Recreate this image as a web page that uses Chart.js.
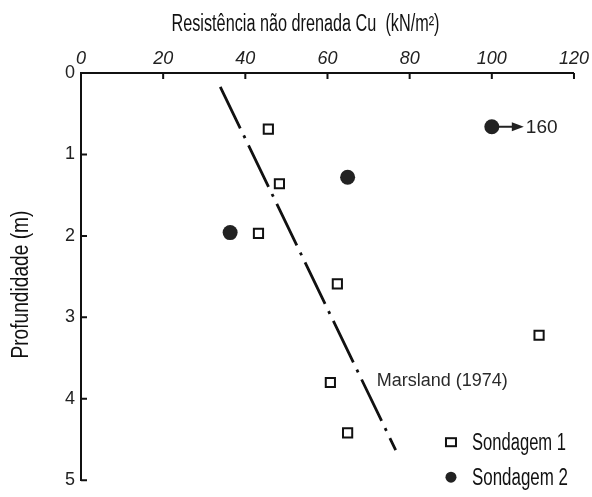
<!DOCTYPE html>
<html>
<head>
<meta charset="utf-8">
<script src="https://cdn.jsdelivr.net/npm/chart.js@4.4.1/dist/chart.umd.min.js"></script>
<style>
  html, body { margin: 0; padding: 0; background: #fff; }
  #chart { display: block; }
</style>
</head>
<body>
<canvas id="chart" width="592" height="497"></canvas>
<script>
// Sondagem 1 (quadrados abertos)
const sond1Cu = [45.6, 48.3, 43.2, 62.4, 111.5, 60.7, 64.9];
const sond1Depth = [0.69, 1.36, 1.97, 2.59, 3.22, 3.80, 4.42];
// Sondagem 2 (circulos cheios) - o ultimo vale 160, desenhado no limite 100 com seta
const sond2Cu = [36.3, 64.9, 100];
const sond2Depth = [1.96, 1.28, 0.66];
const offScaleIndex = 2;
const offScaleLabel = '160';
// reta de Marsland (1974)
const marslandCu = [33.9, 76.6];
const marslandDepth = [0.17, 4.63];
const marslandLabel = 'Marsland (1974)';
const marslandLabelAt = [72, 3.78];
// eixos
const xTicks = [0, 20, 40, 60, 80, 100, 120];
const yTicks = [0, 1, 2, 3, 4, 5];
const xTitle = 'Resistência não drenada Cu  (kN/m²)';
const yTitle = 'Profundidade (m)';

const ink = '#111';

// escolhe a primeira fonte instalada da lista
function pickFont(list) {
    const c = document.createElement('canvas').getContext('2d');
    const probe = 'Resistência 0123456789 Wg';
    c.font = '20px monospace';
    const base = c.measureText(probe).width;
    for (const f of list) {
        c.font = "20px '" + f + "', monospace";
        if (Math.abs(c.measureText(probe).width - base) > 0.5) return "'" + f + "'";
    }
    return 'sans-serif';
}
const sans = pickFont(['Liberation Sans', 'Arimo', 'Roboto', 'Noto Sans', 'Open Sans', 'DejaVu Sans']);

// texto estreito (condensado) com largura alvo
function narrowText(ctx, text, x, y, size, width, rotate) {
    ctx.save();
    ctx.font = size + 'px ' + sans;
    const w = ctx.measureText(text).width;
    ctx.translate(x, y);
    if (rotate) ctx.rotate(-Math.PI / 2);
    ctx.scale(width / w, 1);
    ctx.fillText(text, 0, 0);
    ctx.restore();
}

const toPoints = (xs, ys) => xs.map((v, i) => ({ x: v, y: ys[i] }));

const extras = {
    id: 'extras',
    afterDatasetsDraw(chart) {
        const { ctx, chartArea, scales: { x, y } } = chart;
        ctx.save();

        // marcas de escala para dentro
        ctx.strokeStyle = ink;
        ctx.lineWidth = 2;
        ctx.beginPath();
        xTicks.forEach(v => {
            const px = x.getPixelForValue(v);
            ctx.moveTo(px, chartArea.top);
            ctx.lineTo(px, chartArea.top + 6);
        });
        yTicks.forEach(v => {
            const py = y.getPixelForValue(v);
            ctx.moveTo(chartArea.left, py);
            ctx.lineTo(chartArea.left + 6, py);
        });
        ctx.stroke();

        // titulos dos eixos (fonte estreita)
        ctx.fillStyle = ink;
        ctx.textBaseline = 'middle';
        ctx.textAlign = 'center';
        const midX = (chartArea.left + chartArea.right) / 2;
        const midY = (chartArea.top + chartArea.bottom) / 2;
        narrowText(ctx, xTitle, midX - 22, chartArea.top - 48, 23, 268, false);
        narrowText(ctx, yTitle, 22, midY + 8, 23, 148, true);

        // seta para o valor fora da escala
        const p = chart.getDatasetMeta(2).data[offScaleIndex];
        ctx.strokeStyle = '#222';
        ctx.fillStyle = '#222';
        ctx.lineWidth = 2;
        ctx.beginPath();
        ctx.moveTo(p.x + 6, p.y);
        ctx.lineTo(p.x + 22, p.y);
        ctx.stroke();
        ctx.beginPath();
        ctx.moveTo(p.x + 32, p.y);
        ctx.lineTo(p.x + 20, p.y - 4.5);
        ctx.lineTo(p.x + 20, p.y + 4.5);
        ctx.closePath();
        ctx.fill();
        ctx.font = '19px ' + sans;
        ctx.textAlign = 'left';
        ctx.fillText(offScaleLabel, p.x + 34, p.y + 1);

        // texto da reta
        ctx.fillStyle = '#2a2a2a';
        ctx.font = '18px ' + sans;
        ctx.fillText(marslandLabel, x.getPixelForValue(marslandLabelAt[0]), y.getPixelForValue(marslandLabelAt[1]));

        // legenda
        const lx = chartArea.right - 123;
        const tx = chartArea.right - 102;
        const rows = [chartArea.bottom - 38, chartArea.bottom - 3];
        ctx.lineWidth = 2;
        ctx.strokeStyle = ink;
        ctx.strokeRect(lx - 5, rows[0] - 4, 10, 8);
        ctx.fillStyle = '#222';
        ctx.beginPath();
        ctx.arc(lx, rows[1], 5.5, 0, Math.PI * 2);
        ctx.fill();
        ctx.fillStyle = ink;
        narrowText(ctx, chart.data.datasets[1].label, tx, rows[0] + 1, 23, 94, false);
        narrowText(ctx, chart.data.datasets[2].label, tx, rows[1] + 1, 23, 96, false);

        ctx.restore();
    }
};

new Chart(document.getElementById('chart'), {
    type: 'scatter',
    data: {
        datasets: [{
            label: marslandLabel,
            data: toPoints(marslandCu, marslandDepth),
            showLine: true,
            borderColor: ink,
            borderWidth: 2.8,
            borderDash: [46, 8, 3, 8],
            pointRadius: 0,
            fill: false
        }, {
            label: 'Sondagem 1',
            data: toPoints(sond1Cu, sond1Depth),
            pointStyle: 'rect',
            pointRadius: 6.5,
            pointBorderWidth: 2,
            pointBorderColor: ink,
            pointBackgroundColor: '#fff'
        }, {
            label: 'Sondagem 2',
            data: toPoints(sond2Cu, sond2Depth),
            pointStyle: 'circle',
            pointRadius: 7.5,
            pointBorderWidth: 0,
            pointBackgroundColor: '#222'
        }]
    },
    options: {
        responsive: false,
        animation: false,
        layout: {
            padding: { left: 37, right: 17, top: 37, bottom: 9 }
        },
        plugins: {
            legend: { display: false },
            tooltip: { enabled: false }
        },
        scales: {
            x: {
                type: 'linear',
                position: 'top',
                min: 0,
                max: 120,
                grid: { display: false, drawTicks: false },
                border: { display: true, color: ink, width: 2 },
                ticks: {
                    color: '#222',
                    padding: 3,
                    font: { family: sans, size: 18, style: 'italic' }
                },
                afterBuildTicks: s => { s.ticks = xTicks.map(v => ({ value: v })); },
                afterFit: s => { s.height = 36; }
            },
            y: {
                type: 'linear',
                reverse: true,
                min: 0,
                max: 5,
                grid: { display: false, drawTicks: false },
                border: { display: true, color: ink, width: 2 },
                ticks: {
                    color: '#222',
                    padding: 6,
                    font: { family: sans, size: 18 }
                },
                afterBuildTicks: s => { s.ticks = yTicks.map(v => ({ value: v })); },
                afterFit: s => { s.width = 44; }
            }
        }
    },
    plugins: [extras]
});
</script>
</body>
</html>
